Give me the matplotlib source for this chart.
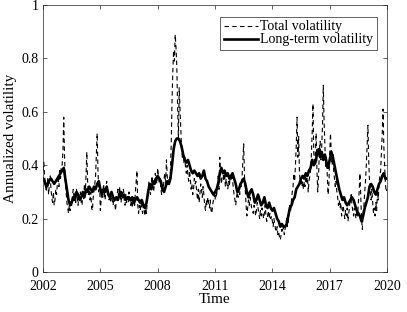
import matplotlib
matplotlib.use('Agg')
import matplotlib.pyplot as plt
import numpy as np

plt.rcParams['font.family'] = ['Liberation Serif', 'DejaVu Serif']
plt.rcParams['mathtext.fontset'] = 'stix'

# long-term volatility, monthly from Jan 2002
long_term = [
    0.35, 0.34, 0.32, 0.33, 0.345, 0.35, 0.34, 0.33, 0.34, 0.35, 0.36, 0.37,   # 2002
    0.38, 0.39, 0.35, 0.31, 0.27, 0.25, 0.26, 0.28, 0.27, 0.30, 0.29, 0.27,    # 2003
    0.28, 0.30, 0.28, 0.31, 0.30, 0.32, 0.31, 0.30, 0.32, 0.31, 0.33, 0.34,    # 2004
    0.31, 0.29, 0.31, 0.30, 0.32, 0.29, 0.28, 0.30, 0.28, 0.27, 0.28, 0.27,    # 2005
    0.29, 0.30, 0.28, 0.29, 0.27, 0.28, 0.28, 0.27, 0.28, 0.26, 0.27, 0.28,    # 2006
    0.27, 0.26, 0.27, 0.25, 0.24, 0.26, 0.30, 0.33, 0.31, 0.34, 0.33, 0.35,    # 2007
    0.36, 0.35, 0.34, 0.31, 0.30, 0.32, 0.34, 0.33, 0.35, 0.40, 0.46, 0.49,    # 2008
    0.50, 0.50, 0.49, 0.47, 0.44, 0.42, 0.41, 0.42, 0.40, 0.38, 0.37, 0.38,    # 2009
    0.37, 0.36, 0.37, 0.35, 0.36, 0.38, 0.35, 0.34, 0.32, 0.31, 0.30, 0.29,    # 2010
    0.30, 0.31, 0.33, 0.37, 0.39, 0.37, 0.38, 0.36, 0.37, 0.35, 0.36, 0.37,    # 2011
    0.35, 0.33, 0.30, 0.31, 0.33, 0.34, 0.35, 0.33, 0.30, 0.28, 0.30, 0.31,    # 2012
    0.29, 0.26, 0.27, 0.29, 0.27, 0.25, 0.26, 0.28, 0.25, 0.24, 0.26, 0.24,    # 2013
    0.23, 0.24, 0.22, 0.20, 0.19, 0.17, 0.18, 0.17, 0.17, 0.18, 0.21, 0.24,    # 2014
    0.25, 0.27, 0.28, 0.31, 0.32, 0.33, 0.35, 0.36, 0.35, 0.37, 0.36, 0.38,    # 2015
    0.39, 0.42, 0.40, 0.41, 0.44, 0.46, 0.43, 0.45, 0.42, 0.44, 0.41, 0.39,    # 2016
    0.42, 0.45, 0.43, 0.40, 0.37, 0.34, 0.31, 0.29, 0.27, 0.28, 0.26, 0.25,    # 2017
    0.26, 0.27, 0.28, 0.27, 0.25, 0.23, 0.22, 0.21, 0.19, 0.21, 0.24, 0.26,    # 2018
    0.28, 0.32, 0.33, 0.32, 0.30, 0.29, 0.31, 0.33, 0.34, 0.36, 0.37, 0.35,    # 2019
    0.35,                                                                      # 2020
]

# total volatility, twice a month from Jan 2002
total = [
    0.38, 0.41, 0.36, 0.33, 0.30, 0.32, 0.35, 0.29, 0.33, 0.36, 0.31, 0.28,
    0.26, 0.30, 0.25, 0.27, 0.31, 0.29, 0.33, 0.36, 0.32, 0.38, 0.35, 0.40,   # 2002
    0.40, 0.45, 0.58, 0.44, 0.34, 0.30, 0.26, 0.24, 0.22, 0.25, 0.23, 0.27,
    0.25, 0.29, 0.31, 0.27, 0.30, 0.26, 0.31, 0.28, 0.25, 0.29, 0.27, 0.30,   # 2003
    0.26, 0.25, 0.30, 0.27, 0.33, 0.29, 0.36, 0.45, 0.34, 0.29, 0.31, 0.27,
    0.30, 0.24, 0.23, 0.28, 0.30, 0.33, 0.36, 0.44, 0.52, 0.38, 0.30, 0.34,   # 2004
    0.23, 0.27, 0.31, 0.28, 0.33, 0.30, 0.27, 0.32, 0.34, 0.29, 0.31, 0.27,
    0.29, 0.26, 0.30, 0.27, 0.25, 0.28, 0.26, 0.23, 0.27, 0.29, 0.31, 0.28,   # 2005
    0.32, 0.29, 0.26, 0.30, 0.28, 0.31, 0.27, 0.25, 0.29, 0.26, 0.28, 0.26,
    0.30, 0.27, 0.25, 0.27, 0.24, 0.26, 0.28, 0.25, 0.30, 0.34, 0.38, 0.25,   # 2006
    0.22, 0.25, 0.23, 0.26, 0.24, 0.22, 0.25, 0.23, 0.21, 0.24, 0.22, 0.27,
    0.30, 0.34, 0.31, 0.29, 0.33, 0.36, 0.32, 0.30, 0.34, 0.37, 0.35, 0.33,   # 2007
    0.39, 0.36, 0.33, 0.35, 0.31, 0.29, 0.33, 0.31, 0.35, 0.37, 0.33, 0.42,
    0.36, 0.33, 0.35, 0.33, 0.38, 0.48, 0.64, 0.75, 0.83, 0.79, 0.89, 0.84,   # 2008
    0.77, 0.62, 0.50, 0.69, 0.61, 0.52, 0.46, 0.43, 0.45, 0.41, 0.43, 0.39,
    0.37, 0.40, 0.36, 0.34, 0.38, 0.35, 0.31, 0.33, 0.29, 0.31, 0.35, 0.33,   # 2009
    0.34, 0.30, 0.27, 0.31, 0.26, 0.29, 0.33, 0.31, 0.28, 0.32, 0.29, 0.25,
    0.23, 0.27, 0.25, 0.28, 0.26, 0.24, 0.27, 0.23, 0.22, 0.25, 0.27, 0.29,   # 2010
    0.27, 0.30, 0.28, 0.33, 0.36, 0.31, 0.43, 0.36, 0.33, 0.36, 0.38, 0.34,
    0.37, 0.32, 0.35, 0.33, 0.31, 0.34, 0.32, 0.36, 0.34, 0.37, 0.35, 0.31,   # 2011
    0.29, 0.27, 0.25, 0.28, 0.30, 0.28, 0.31, 0.29, 0.34, 0.32, 0.36, 0.42,
    0.48, 0.36, 0.31, 0.25, 0.21, 0.24, 0.27, 0.25, 0.28, 0.26, 0.24, 0.23,   # 2012
    0.22, 0.25, 0.24, 0.21, 0.23, 0.26, 0.24, 0.22, 0.20, 0.23, 0.21, 0.24,
    0.22, 0.20, 0.22, 0.25, 0.21, 0.19, 0.21, 0.23, 0.20, 0.22, 0.20, 0.21,   # 2013
    0.19, 0.17, 0.20, 0.18, 0.16, 0.15, 0.17, 0.14, 0.15, 0.13, 0.12, 0.14,
    0.16, 0.15, 0.17, 0.14, 0.16, 0.18, 0.20, 0.17, 0.19, 0.22, 0.25, 0.23,   # 2014
    0.27, 0.30, 0.32, 0.37, 0.34, 0.40, 0.47, 0.58, 0.43, 0.51, 0.38, 0.33,
    0.35, 0.32, 0.34, 0.31, 0.34, 0.32, 0.36, 0.33, 0.37, 0.30, 0.34, 0.36,   # 2015
    0.38, 0.44, 0.52, 0.63, 0.45, 0.40, 0.44, 0.52, 0.38, 0.30, 0.36, 0.45,
    0.49, 0.42, 0.47, 0.55, 0.70, 0.56, 0.47, 0.39, 0.43, 0.36, 0.29, 0.33,   # 2016
    0.44, 0.52, 0.45, 0.40, 0.44, 0.38, 0.35, 0.32, 0.34, 0.30, 0.28, 0.25,
    0.27, 0.24, 0.26, 0.21, 0.23, 0.25, 0.22, 0.20, 0.23, 0.21, 0.24, 0.19,   # 2017
    0.22, 0.25, 0.27, 0.29, 0.25, 0.23, 0.21, 0.24, 0.22, 0.20, 0.23, 0.21,
    0.26, 0.30, 0.37, 0.28, 0.20, 0.16, 0.22, 0.25, 0.30, 0.34, 0.40, 0.47,   # 2018
    0.55, 0.42, 0.34, 0.30, 0.27, 0.31, 0.26, 0.22, 0.24, 0.21, 0.26, 0.23,
    0.30, 0.27, 0.33, 0.36, 0.38, 0.45, 0.52, 0.61, 0.47, 0.40, 0.33, 0.30,   # 2019
    0.31,
]

xticks = [2002, 2005, 2008, 2011, 2014, 2017, 2020]
yticks = [0, 0.2, 0.4, 0.6, 0.8, 1]

t_total = 2002 + np.arange(len(total)) / 24
t_long = 2002 + np.arange(len(long_term)) / 12

fig = plt.figure(figsize=(4.07, 3.12), dpi=100)
ax = fig.add_axes([0.1057, 0.128, 0.8452, 0.856])

ax.plot(t_total, total, 'k--', lw=0.8, dashes=(4, 3), label='Total volatility')
ax.plot(t_long, long_term, 'k-', lw=1.9, label='Long-term volatility')

ax.set_xlim(2002, 2020)
ax.set_ylim(0, 1)
ax.set_xticks(xticks)
ax.set_xticklabels([str(x) for x in xticks])
ax.set_yticks(yticks)
ax.set_yticklabels(['0', '0.2', '0.4', '0.6', '0.8', '1'])
ax.tick_params(direction='in', top=True, right=True, length=3, width=0.5,
               labelsize=10, color='#262626')
ax.tick_params(axis='x', pad=5.5)
ax.tick_params(axis='y', pad=3)
for s in ax.spines.values():
    s.set_linewidth(0.5)
    s.set_color('#262626')

ax.set_xlabel('Time', fontsize=11, labelpad=0)
ax.set_ylabel('Annualized volatility', fontsize=11, labelpad=3)

leg = ax.legend(loc='upper right', bbox_to_anchor=(0.971, 0.955), borderaxespad=0,
                fontsize=10, handlelength=2.5, handletextpad=0.15, borderpad=0.25,
                labelspacing=0.0, fancybox=False, framealpha=1, edgecolor='#262626')
leg.get_frame().set_linewidth(0.5)

plt.savefig('out.png', dpi=100, facecolor='white')
